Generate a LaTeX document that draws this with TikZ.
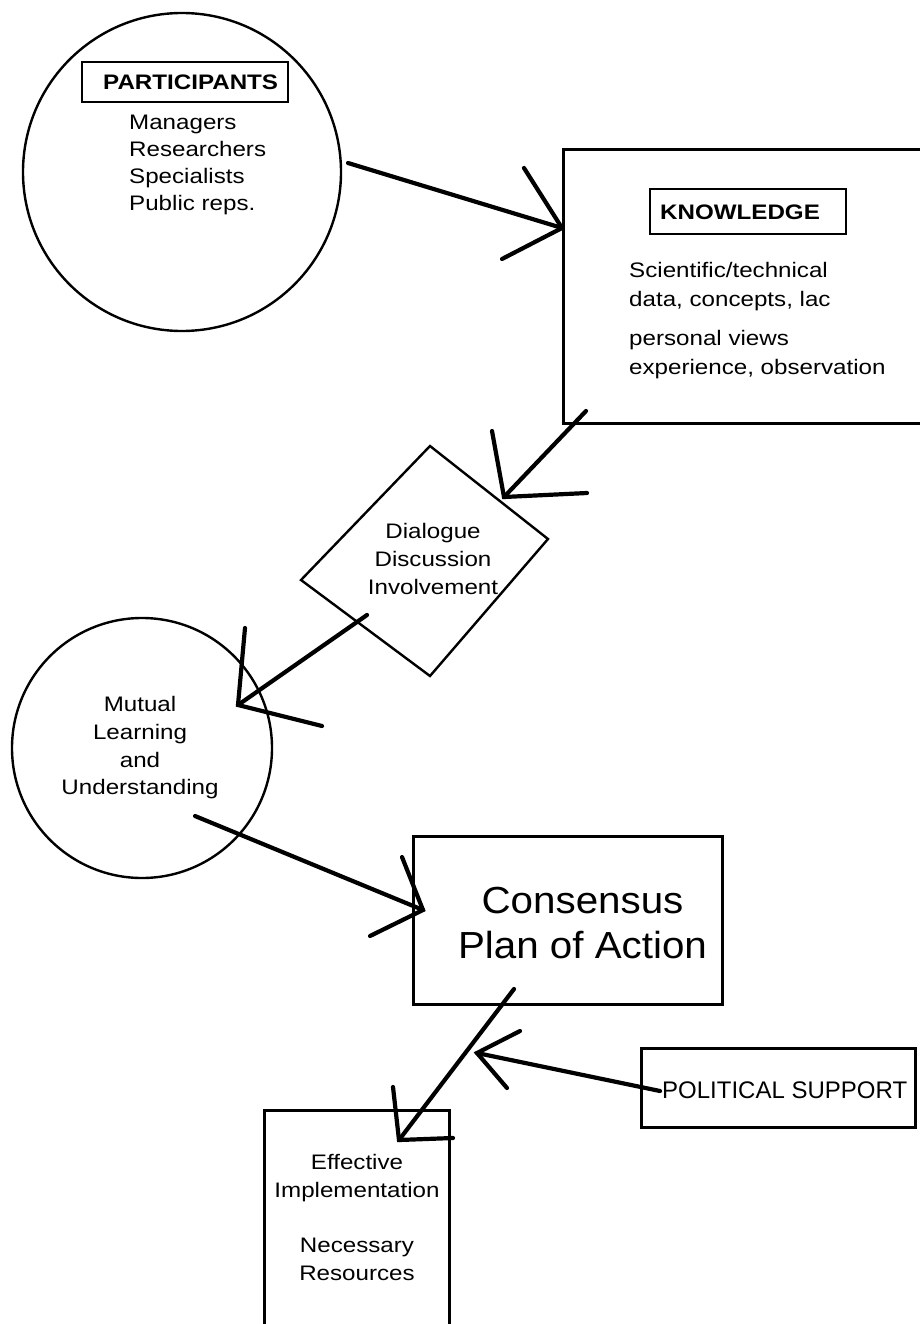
\documentclass[tikz,border=0pt]{standalone}
\usepackage{fontspec}
\setmainfont[FakeStretch=1.15]{Liberation Sans}
\newfontfamily\plainfont{Liberation Sans}
\newfontfamily\consfont[FakeStretch=1.07]{Liberation Sans}
\begin{document}
\begin{tikzpicture}[x=1pt,y=-1pt,
  box/.style={draw, line width=3pt, inner sep=0pt},
  ring/.style={draw, circle, line width=2.4pt, inner sep=0pt},
  tag/.style={draw, line width=1.8pt, inner sep=0pt},
  txt/.style={inner sep=0pt, font=\fontsize{21}{27.6}\selectfont},
  conn/.style={line width=4.2pt, line cap=round},
]
\useasboundingbox (0,0) rectangle (920,1324);
\clip (0,0) rectangle (920,1324);
\fill[white] (0,0) rectangle (920,1324);

% ---- shapes ----
\node[ring, minimum size=318pt] (part) at (182,172) {};
\node[tag, minimum width=206pt, minimum height=40pt] (ptag) at (185,82) {};
\node[txt, anchor=west, font=\fontsize{21}{27}\selectfont\bfseries] (ptitle) at (103,82) {PARTICIPANTS};
\node[txt, anchor=north west, align=left, font=\fontsize{21}{27}\selectfont] (plist) at (129,114.5)
  {Managers\\Researchers\\Specialists\\Public reps.};

\node[box, minimum width=377pt, minimum height=273pt] (know) at (751.5,286.5) {};
\node[tag, minimum width=196pt, minimum height=45pt] (ktag) at (748,211.5) {};
\node[txt, anchor=west, font=\fontsize{21}{27}\selectfont\bfseries] (ktitle) at (660,212) {KNOWLEDGE};
\node[txt, anchor=north west, align=left, font=\fontsize{21}{28.5}\selectfont] (klist) at (629,262.5)
  {Scientific/technical\\data, concepts, lac\\[11pt]personal views\\experience, observation};

\coordinate (dtop) at (430,446);
\coordinate (dright) at (548,539);
\coordinate (dbottom) at (430,676);
\coordinate (dleft) at (301,580);
\draw[line width=2.4pt, line join=miter] (dtop) -- (dright) -- (dbottom) -- (dleft) -- cycle;
\node[txt, anchor=north, align=center, font=\fontsize{21}{28}\selectfont] (dtext) at (433,523.5)
  {Dialogue\\Discussion\\Involvement};

\node[ring, minimum size=260pt] (mutual) at (142,748) {};
\node[txt, anchor=north, align=center] (mtext) at (140,696.5)
  {Mutual\\Learning\\and\\Understanding};

\node[box, minimum width=309pt, minimum height=168pt] (cons) at (567.5,920) {};
\node[txt, anchor=north, align=center, font=\consfont\fontsize{37.7}{45}\selectfont] (ctext) at (582.5,886.5)
  {Consensus\\Plan of Action};

\node[box, minimum width=274pt, minimum height=79pt] (pol) at (778,1087.5) {};
\node[txt, anchor=west, font=\plainfont\fontsize{24}{28}\selectfont] (ptext) at (662,1090) {POLITICAL SUPPORT};

\node[box, minimum width=185pt, minimum height=240pt] (eff) at (356.5,1230) {};
\node[txt, anchor=north, align=center] (etext) at (357,1154.5)
  {Effective\\Implementation\\[27.6pt]Necessary\\Resources};

% ---- connectors ----
\coordinate (a1s) at (348,163);  \coordinate (a1t) at (562,228);
\coordinate (a1u) at (524,168);  \coordinate (a1l) at (502,259);
\coordinate (a2s) at (586,411);  \coordinate (a2t) at (504,497);
\coordinate (a2u) at (492,431);  \coordinate (a2l) at (587,493);
\coordinate (a3s) at (367,615);  \coordinate (a3t) at (238,705);
\coordinate (a3u) at (245,628);  \coordinate (a3l) at (322,726);
\coordinate (a4s) at (195,816);  \coordinate (a4t) at (423,910);
\coordinate (a4u) at (402,857);  \coordinate (a4l) at (370,936);
\coordinate (a5s) at (514,989);  \coordinate (a5t) at (399,1140);
\coordinate (a5u) at (393,1087); \coordinate (a5l) at (453,1138);
\coordinate (a6s) at (660,1091); \coordinate (a6t) at (477,1053);
\coordinate (a6u) at (520,1031); \coordinate (a6l) at (507,1088);

\foreach \a in {a1,a2,a3,a4,a5,a6}{
  \draw[conn] (\a s) -- (\a t);
  \draw[conn] (\a u) -- (\a t) -- (\a l);
}
\end{tikzpicture}
\end{document}
